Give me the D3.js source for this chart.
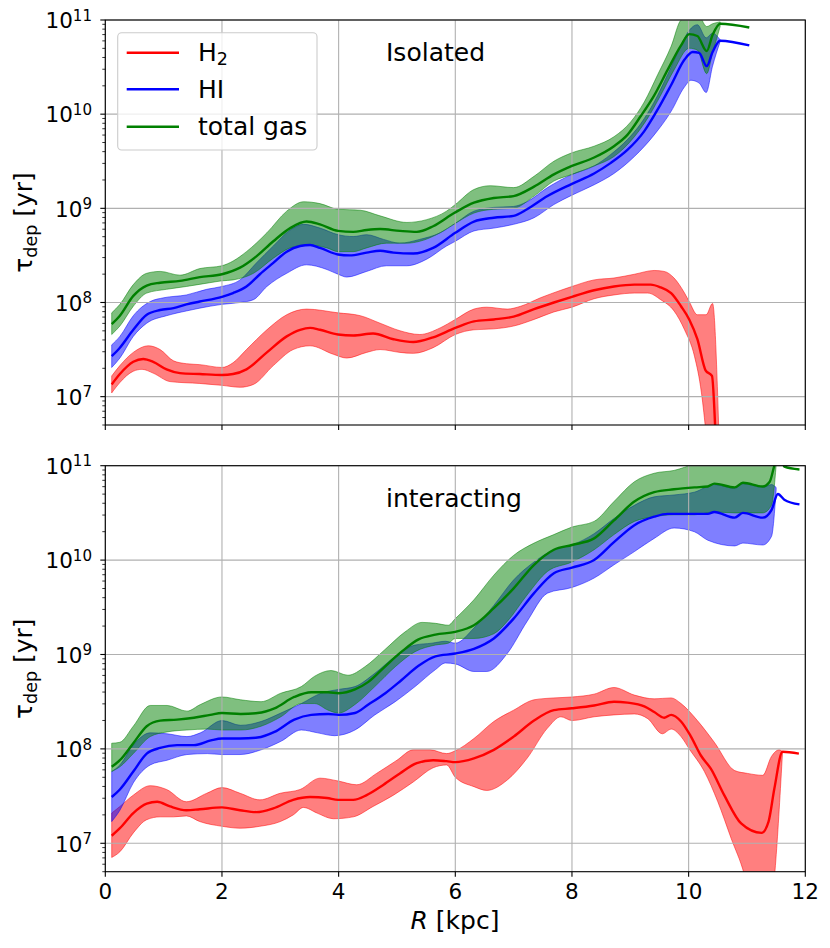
<!DOCTYPE html>
<html><head><meta charset="utf-8">
<script src="https://cdn.jsdelivr.net/npm/d3@7"></script>
<style>
body{margin:0;background:#fff}
svg{display:block}
text{font-family:"DejaVu Sans",sans-serif;fill:#000}
</style>
</head><body>
<svg id="c" width="830" height="948"></svg>
<script>
// ---- data: [R (kpc), log10(tau_dep / yr)] ----
// Isolated
const isoH2Mid = [[0.11,7.13],[0.25,7.24],[0.48,7.37],[0.65,7.40],[0.82,7.37],[1.05,7.29],[1.28,7.25],[1.62,7.24],[2.0,7.23],[2.19,7.24],[2.42,7.29],[2.77,7.47],[3.11,7.64],[3.34,7.71],[3.51,7.73],[3.68,7.71],[3.99,7.66],[4.25,7.65],[4.59,7.67],[4.94,7.61],[5.28,7.58],[5.62,7.63],[6.0,7.73],[6.32,7.80],[6.66,7.82],[7.0,7.85],[7.35,7.93],[7.69,8.00],[8.0,8.06],[8.38,8.13],[8.72,8.17],[9.07,8.19],[9.35,8.19],[9.52,8.16],[9.70,8.10],[9.87,7.96],[10.01,7.82],[10.15,7.61],[10.29,7.28],[10.40,7.22],[10.46,6.6]];
const isoH2Lo = [[0.11,7.04],[0.25,7.15],[0.48,7.27],[0.63,7.29],[0.82,7.25],[1.11,7.16],[1.62,7.14],[2.0,7.12],[2.31,7.10],[2.54,7.13],[2.88,7.33],[3.22,7.50],[3.51,7.54],[3.91,7.45],[4.14,7.41],[4.48,7.47],[4.71,7.50],[5.05,7.47],[5.28,7.46],[5.62,7.52],[6.0,7.66],[6.32,7.71],[6.66,7.72],[7.0,7.75],[7.35,7.82],[7.69,7.90],[8.0,7.95],[8.38,8.04],[8.72,8.08],[9.07,8.10],[9.30,8.10],[9.52,8.03],[9.75,7.91],[9.93,7.71],[10.10,7.43],[10.22,7.04],[10.30,6.6]];
const isoH2Hi = [[0.11,7.22],[0.25,7.33],[0.48,7.47],[0.74,7.54],[0.94,7.50],[1.17,7.38],[1.39,7.35],[1.62,7.34],[2.0,7.31],[2.19,7.36],[2.42,7.50],[2.77,7.71],[3.11,7.87],[3.45,7.93],[3.99,7.89],[4.37,7.86],[4.71,7.78],[5.05,7.70],[5.39,7.66],[5.74,7.73],[6.0,7.82],[6.32,7.93],[6.54,7.95],[6.89,7.93],[7.12,7.96],[7.46,8.05],[7.81,8.13],[8.0,8.17],[8.38,8.24],[8.72,8.26],[9.07,8.30],[9.41,8.34],[9.58,8.33],[9.75,8.26],[9.93,8.10],[10.01,8.01],[10.15,7.87],[10.30,7.87],[10.41,7.99],[10.52,6.6]];
const isoHIMid = [[0.11,7.43],[0.25,7.52],[0.48,7.71],[0.71,7.87],[0.94,7.92],[1.17,7.94],[1.39,7.98],[1.62,8.01],[2.0,8.06],[2.19,8.10],[2.42,8.17],[2.65,8.30],[2.88,8.42],[3.11,8.54],[3.34,8.60],[3.51,8.61],[3.68,8.58],[3.99,8.51],[4.19,8.50],[4.48,8.53],[4.71,8.55],[4.94,8.53],[5.28,8.52],[5.62,8.58],[6.0,8.74],[6.32,8.86],[6.66,8.90],[7.0,8.92],[7.23,8.99],[7.58,9.13],[8.0,9.26],[8.38,9.37],[8.66,9.48],[8.95,9.62],[9.24,9.82],[9.47,10.05],[9.70,10.31],[9.93,10.58],[10.07,10.66],[10.18,10.65],[10.31,10.51],[10.41,10.66],[10.54,10.78],[11.04,10.73]];
const isoHILo = [[0.11,7.31],[0.25,7.41],[0.48,7.64],[0.71,7.78],[1.05,7.86],[1.39,7.91],[1.62,7.94],[2.0,7.98],[2.31,8.00],[2.54,8.03],[2.77,8.17],[3.11,8.31],[3.45,8.40],[3.80,8.35],[3.99,8.30],[4.14,8.27],[4.48,8.33],[4.82,8.39],[5.17,8.39],[5.51,8.46],[5.85,8.60],[6.0,8.65],[6.32,8.76],[6.66,8.79],[7.0,8.83],[7.35,8.90],[7.69,9.04],[8.0,9.14],[8.38,9.25],[8.72,9.37],[9.07,9.55],[9.41,9.78],[9.70,10.03],[9.93,10.29],[10.04,10.36],[10.18,10.33],[10.30,10.23],[10.41,10.51],[10.54,10.77]];
const isoHIHi = [[0.11,7.55],[0.25,7.64],[0.48,7.86],[0.77,8.01],[1.0,8.05],[1.39,8.08],[1.74,8.14],[2.0,8.17],[2.31,8.24],[2.59,8.42],[2.88,8.60],[3.17,8.77],[3.40,8.83],[3.68,8.79],[3.99,8.72],[4.25,8.70],[4.48,8.72],[4.77,8.67],[5.05,8.63],[5.39,8.67],[5.74,8.74],[6.0,8.84],[6.32,8.97],[6.66,9.01],[7.0,9.02],[7.23,9.07],[7.58,9.22],[8.0,9.36],[8.38,9.45],[8.66,9.57],[8.95,9.73],[9.18,9.90],[9.41,10.13],[9.64,10.42],[9.87,10.73],[10.01,10.89],[10.15,10.95],[10.30,10.81],[10.41,10.86],[10.54,10.79]];
const isoTotMid = [[0.11,7.77],[0.25,7.86],[0.48,8.07],[0.71,8.18],[0.94,8.21],[1.28,8.23],[1.62,8.27],[2.0,8.30],[2.31,8.37],[2.59,8.49],[2.88,8.65],[3.17,8.79],[3.45,8.86],[3.68,8.83],[3.99,8.76],[4.25,8.75],[4.48,8.77],[4.71,8.78],[5.05,8.76],[5.34,8.75],[5.62,8.81],[5.98,8.95],[6.32,9.06],[6.66,9.11],[7.0,9.13],[7.35,9.23],[7.69,9.36],[8.0,9.45],[8.38,9.54],[8.72,9.66],[8.95,9.78],[9.18,9.98],[9.41,10.20],[9.64,10.47],[9.87,10.73],[10.01,10.85],[10.15,10.83],[10.31,10.67],[10.41,10.84],[10.54,10.96],[11.04,10.92]];
const isoTotLo = [[0.11,7.66],[0.25,7.75],[0.48,7.96],[0.71,8.10],[1.05,8.14],[1.39,8.17],[1.79,8.21],[2.0,8.23],[2.19,8.24],[2.54,8.31],[2.88,8.47],[3.17,8.58],[3.45,8.61],[3.80,8.58],[3.99,8.54],[4.25,8.54],[4.48,8.58],[4.82,8.63],[5.17,8.63],[5.39,8.65],[5.74,8.74],[6.0,8.84],[6.32,8.95],[6.66,8.99],[7.0,9.00],[7.35,9.13],[7.69,9.29],[8.0,9.36],[8.38,9.45],[8.72,9.55],[9.07,9.76],[9.30,9.96],[9.52,10.20],[9.75,10.47],[10.01,10.70],[10.15,10.68],[10.31,10.43],[10.41,10.65],[10.54,10.93]];
const isoTotHi = [[0.11,7.89],[0.25,7.98],[0.48,8.19],[0.71,8.31],[0.94,8.33],[1.28,8.29],[1.62,8.36],[2.0,8.39],[2.19,8.44],[2.42,8.54],[2.77,8.74],[3.11,8.97],[3.40,9.07],[3.68,9.05],[3.99,8.99],[4.37,8.98],[4.71,8.92],[5.17,8.85],[5.51,8.88],[5.85,8.97],[6.0,9.04],[6.32,9.20],[6.60,9.24],[7.0,9.22],[7.35,9.34],[7.69,9.50],[8.0,9.59],[8.38,9.66],[8.72,9.76],[9.01,9.92],[9.24,10.13],[9.47,10.42],[9.70,10.72],[9.87,11.0],[10.15,11.07],[10.31,10.93],[10.41,10.96],[10.54,10.98]];
// Interacting
const intH2Mid = [[0.11,7.08],[0.25,7.16],[0.48,7.32],[0.71,7.42],[0.89,7.44],[1.11,7.39],[1.39,7.35],[1.62,7.36],[2.0,7.38],[2.31,7.35],[2.59,7.33],[2.88,7.37],[3.22,7.46],[3.51,7.49],[3.80,7.48],[3.99,7.46],[4.25,7.46],[4.48,7.51],[4.77,7.62],[5.05,7.74],[5.34,7.85],[5.62,7.88],[5.85,7.87],[6.0,7.86],[6.32,7.90],[6.66,7.99],[7.0,8.13],[7.35,8.30],[7.69,8.41],[8.0,8.43],[8.38,8.46],[8.72,8.50],[8.95,8.49],[9.24,8.45],[9.41,8.39],[9.58,8.33],[9.70,8.36],[9.87,8.29],[10.04,8.13],[10.21,7.93],[10.38,7.79],[10.61,7.51],[10.90,7.21],[11.25,7.11],[11.37,7.23],[11.47,7.58],[11.61,7.97],[11.89,7.95]];
const intH2Lo = [[0.11,6.85],[0.25,6.91],[0.48,7.11],[0.71,7.25],[0.94,7.28],[1.17,7.28],[1.39,7.29],[1.62,7.23],[2.0,7.18],[2.31,7.16],[2.65,7.18],[3.0,7.23],[3.22,7.30],[3.40,7.38],[3.63,7.32],[3.91,7.26],[4.25,7.28],[4.59,7.39],[4.94,7.51],[5.28,7.65],[5.62,7.80],[5.85,7.83],[6.0,7.70],[6.32,7.60],[6.54,7.56],[6.89,7.67],[7.23,7.90],[7.58,8.22],[7.81,8.34],[8.0,8.30],[8.38,8.34],[8.72,8.36],[9.07,8.37],[9.30,8.32],[9.55,8.16],[9.70,8.21],[9.87,8.13],[10.01,8.00],[10.27,7.76],[10.50,7.44],[10.73,7.05],[10.95,6.68],[11.1,6.3],[11.38,6.3],[11.61,7.97]];
const intH2Hi = [[0.11,7.32],[0.25,7.39],[0.48,7.51],[0.77,7.61],[1.05,7.57],[1.39,7.44],[1.74,7.53],[2.0,7.59],[2.31,7.53],[2.65,7.46],[3.0,7.53],[3.34,7.57],[3.68,7.69],[3.99,7.66],[4.31,7.62],[4.65,7.74],[5.0,7.88],[5.28,7.99],[5.57,7.99],[5.85,7.95],[6.0,7.98],[6.32,8.11],[6.66,8.29],[7.0,8.41],[7.35,8.52],[7.69,8.54],[8.0,8.55],[8.38,8.58],[8.72,8.65],[9.07,8.57],[9.41,8.53],[9.70,8.54],[9.87,8.48],[10.15,8.30],[10.44,8.07],[10.79,7.77],[11.01,7.74],[11.27,7.72],[11.42,7.92],[11.55,7.99],[11.61,7.97]];
const intHIMid = [[0.11,7.49],[0.25,7.57],[0.48,7.76],[0.71,7.95],[0.94,8.01],[1.23,8.04],[1.52,8.04],[1.81,8.09],[2.0,8.11],[2.31,8.11],[2.61,8.12],[2.90,8.18],[3.24,8.31],[3.53,8.36],[3.82,8.37],[4.0,8.36],[4.28,8.38],[4.51,8.47],[4.80,8.59],[5.08,8.73],[5.37,8.88],[5.66,8.98],[6.0,9.01],[6.32,9.06],[6.66,9.17],[7.0,9.38],[7.35,9.65],[7.69,9.86],[8.0,9.92],[8.38,10.00],[8.72,10.19],[9.07,10.37],[9.41,10.46],[9.64,10.49],[9.98,10.49],[10.33,10.49],[10.44,10.51],[10.79,10.45],[10.93,10.50],[11.27,10.45],[11.42,10.53],[11.53,10.70],[11.64,10.64],[11.90,10.59]];
const intHILo = [[0.11,7.23],[0.25,7.35],[0.48,7.64],[0.77,7.83],[1.06,7.88],[1.40,7.94],[1.75,7.95],[2.0,7.94],[2.31,7.94],[2.67,7.99],[3.01,8.08],[3.36,8.20],[3.64,8.17],[3.93,8.14],[4.28,8.20],[4.62,8.36],[4.97,8.50],[5.31,8.66],[5.66,8.84],[5.83,8.91],[6.0,8.90],[6.32,8.82],[6.54,8.82],[6.89,9.01],[7.23,9.35],[7.58,9.65],[8.0,9.71],[8.38,9.81],[8.72,9.95],[9.07,10.09],[9.41,10.23],[9.75,10.34],[10.10,10.30],[10.33,10.21],[10.79,10.15],[10.93,10.18],[11.27,10.16],[11.42,10.25],[11.50,10.74]];
const intHIHi = [[0.11,7.76],[0.25,7.83],[0.48,8.04],[0.77,8.17],[1.06,8.16],[1.40,8.13],[1.63,8.17],[2.0,8.30],[2.32,8.25],[2.67,8.29],[3.01,8.38],[3.36,8.48],[3.70,8.59],[4.0,8.63],[4.28,8.66],[4.62,8.80],[4.97,8.98],[5.31,9.10],[5.60,9.12],[5.83,9.14],[6.0,9.12],[6.32,9.28],[6.66,9.52],[7.0,9.79],[7.35,9.98],[7.69,10.11],[8.0,10.16],[8.38,10.28],[8.72,10.44],[9.07,10.58],[9.41,10.67],[9.75,10.69],[10.10,10.72],[10.44,10.80],[10.79,10.76],[10.93,10.81],[11.27,10.77],[11.42,10.80],[11.50,10.77]];
const intTotMid = [[0.11,7.81],[0.25,7.88],[0.48,8.06],[0.71,8.24],[0.94,8.30],[1.23,8.31],[1.52,8.33],[1.80,8.36],[2.0,8.38],[2.32,8.37],[2.61,8.38],[2.90,8.43],[3.24,8.55],[3.53,8.60],[3.82,8.60],[4.0,8.59],[4.28,8.63],[4.51,8.71],[4.79,8.87],[5.08,9.03],[5.37,9.16],[5.66,9.21],[6.0,9.24],[6.32,9.31],[6.66,9.49],[7.0,9.70],[7.35,9.95],[7.69,10.11],[8.0,10.16],[8.38,10.23],[8.72,10.42],[9.07,10.62],[9.41,10.72],[9.75,10.75],[10.10,10.77],[10.33,10.78],[10.44,10.81],[10.79,10.77],[10.93,10.82],[11.27,10.78],[11.39,10.83],[11.47,11.0],[11.56,11.14],[11.64,10.99],[11.90,10.96]];
const intTotLo = [[0.11,7.76],[0.25,7.81],[0.48,7.95],[0.77,8.13],[1.06,8.18],[1.40,8.20],[1.75,8.21],[2.0,8.20],[2.32,8.20],[2.67,8.24],[3.01,8.34],[3.36,8.48],[3.59,8.48],[3.82,8.41],[4.0,8.38],[4.28,8.47],[4.62,8.66],[4.97,8.87],[5.31,9.03],[5.66,9.10],[5.88,9.12],[6.0,9.17],[6.32,9.17],[6.66,9.22],[6.89,9.35],[7.23,9.63],[7.58,9.88],[8.0,9.98],[8.38,10.11],[8.72,10.27],[9.07,10.41],[9.41,10.46],[9.75,10.48],[10.10,10.48],[10.44,10.51],[10.79,10.50],[11.27,10.50],[11.42,10.58],[11.50,11.0]];
const intTotHi = [[0.11,8.06],[0.25,8.07],[0.48,8.24],[0.77,8.46],[1.06,8.46],[1.40,8.40],[1.63,8.47],[2.0,8.55],[2.32,8.52],[2.67,8.50],[3.01,8.59],[3.36,8.66],[3.59,8.77],[3.87,8.83],[4.16,8.78],[4.45,8.87],[4.79,9.05],[5.14,9.24],[5.43,9.34],[5.66,9.33],[5.88,9.31],[6.0,9.38],[6.32,9.58],[6.66,9.84],[7.0,10.05],[7.35,10.18],[7.69,10.27],[8.0,10.35],[8.38,10.41],[8.72,10.62],[9.07,10.83],[9.41,10.92],[9.75,10.95],[10.10,11.02],[10.5,11.1],[11.0,11.15],[11.50,11.15]];

const xTicks = [0, 2, 4, 6, 8, 10, 12];
const yTickExps = [7, 8, 9, 10, 11];
const panelNames = ["Isolated", "interacting"];
const seriesNames = ["H2", "HI", "total gas"];
const seriesColors = ["#ff0000", "#0000ff", "#008000"];

const panels = [
  {name: panelNames[0], top: 20, bottom: 425,
   bands: [[isoH2Lo, isoH2Hi], [isoHILo, isoHIHi], [isoTotLo, isoTotHi]],
   lines: [isoH2Mid, isoHIMid, isoTotMid], labelY: 60.7, legend: true, xLabels: false},
  {name: panelNames[1], top: 465.7, bottom: 871.7,
   bands: [[intH2Lo, intH2Hi], [intHILo, intHIHi], [intTotLo, intTotHi]],
   lines: [intH2Mid, intHIMid, intTotMid], labelY: 506.5, legend: false, xLabels: true}
];

const svg = d3.select("#c");
const L = 105.3, R = 805.3;
const x = d3.scaleLinear().domain([0, 12]).range([L, R]);
const tickFont = 21.5, labelFont = 25;

panels.forEach((p, pi) => {
  const y = d3.scaleLog().domain([5e6, 1e11]).range([p.bottom, p.top]);
  const g = svg.append("g");
  const clipId = "clip" + pi;
  svg.append("clipPath").attr("id", clipId).append("rect")
    .attr("x", L).attr("y", p.top).attr("width", R - L).attr("height", p.bottom - p.top);

  const line = d3.line().x(d => x(d[0])).y(d => y(Math.pow(10, d[1]))).curve(d3.curveMonotoneX);
  const bandPath = (lo, hi) => {
    const a = line(hi);
    const b = line(lo.slice().reverse());
    return a + "L" + b.slice(1) + "Z";
  };
  const plot = g.append("g").attr("clip-path", `url(#${clipId})`);
  p.bands.forEach((b, i) => {
    plot.append("path").attr("d", bandPath(b[0], b[1]))
      .attr("fill", seriesColors[i]).attr("fill-opacity", 0.5)
      .attr("stroke", seriesColors[i]).attr("stroke-opacity", 0.5).attr("stroke-width", 1);
  });
  const grid = g.append("g").attr("stroke", "#b0b0b0").attr("stroke-width", 1.1);
  xTicks.forEach(t => grid.append("line").attr("x1", x(t)).attr("x2", x(t)).attr("y1", p.top).attr("y2", p.bottom));
  yTickExps.forEach(e => grid.append("line").attr("x1", L).attr("x2", R).attr("y1", y(Math.pow(10, e))).attr("y2", y(Math.pow(10, e))));
  const plot2 = g.append("g").attr("clip-path", `url(#${clipId})`);
  p.lines.forEach((d, i) => {
    plot2.append("path").attr("d", line(d)).attr("fill", "none")
      .attr("stroke", seriesColors[i]).attr("stroke-width", 2.4).attr("stroke-linejoin", "round");
  });
  g.append("rect").attr("x", L).attr("y", p.top).attr("width", R - L).attr("height", p.bottom - p.top)
    .attr("fill", "none").attr("stroke", "#000").attr("stroke-width", 1.1);
  const ax = g.append("g");
  xTicks.forEach(t => {
    ax.append("line").attr("x1", x(t)).attr("x2", x(t)).attr("y1", p.bottom).attr("y2", p.bottom + 5)
      .attr("stroke", "#000").attr("stroke-width", 1.1);
    if (p.xLabels) {
      ax.append("text").attr("x", x(t)).attr("y", p.bottom + 27.5).attr("text-anchor", "middle")
        .attr("font-size", tickFont).text(t);
    }
  });
  for (let e = 6; e <= 10; e++) {
    for (let k = 2; k <= 9; k++) {
      const v = k * Math.pow(10, e);
      if (v < 5e6 || v > 1e11) continue;
      ax.append("line").attr("x1", L - 3).attr("x2", L).attr("y1", y(v)).attr("y2", y(v))
        .attr("stroke", "#000").attr("stroke-width", 0.8);
    }
  }
  yTickExps.forEach(e => {
    const yy = y(Math.pow(10, e));
    ax.append("line").attr("x1", L - 5).attr("x2", L).attr("y1", yy).attr("y2", yy)
      .attr("stroke", "#000").attr("stroke-width", 1.1);
    const t = ax.append("text").attr("x", 92).attr("y", yy + 8.3).attr("text-anchor", "end")
      .attr("font-size", tickFont);
    t.append("tspan").text("10");
    t.append("tspan").attr("font-size", tickFont * 0.7).attr("dy", -7.6).text(e);
  });
  const yl = g.append("text").attr("transform", `translate(32,${(p.top + p.bottom) / 2}) rotate(-90)`)
    .attr("text-anchor", "middle").attr("font-size", labelFont);
  yl.append("tspan").text("τ");
  yl.append("tspan").attr("font-size", labelFont * 0.7).attr("dy", 5).text("dep");
  yl.append("tspan").attr("dy", -5).text(" [yr]");
  g.append("text").attr("x", 386).attr("y", p.labelY).attr("font-size", labelFont).text(p.name);

  if (p.legend) {
    const lg = g.append("g");
    lg.append("rect").attr("x", 117.7).attr("y", 32.7).attr("width", 199.3).attr("height", 117.3)
      .attr("rx", 4).attr("fill", "#fff").attr("fill-opacity", 0.8).attr("stroke", "#cccccc").attr("stroke-width", 1.1);
    const rows = [52.7, 89.3, 126.7];
    seriesNames.forEach((s, i) => {
      lg.append("line").attr("x1", 126.7).attr("x2", 179).attr("y1", rows[i]).attr("y2", rows[i])
        .attr("stroke", seriesColors[i]).attr("stroke-width", 2.4);
      const t = lg.append("text").attr("x", 198).attr("y", rows[i] + 8.7).attr("font-size", labelFont);
      if (s === "H2") {
        t.append("tspan").text("H");
        t.append("tspan").attr("font-size", labelFont * 0.7).attr("dy", 4).text("2");
      } else {
        t.text(s);
      }
    });
  }
});
const xl = svg.append("text").attr("x", 455).attr("y", 929).attr("text-anchor", "middle").attr("font-size", labelFont);
xl.append("tspan").attr("font-style", "italic").text("R");
xl.append("tspan").text(" [kpc]");
</script>
</body></html>
